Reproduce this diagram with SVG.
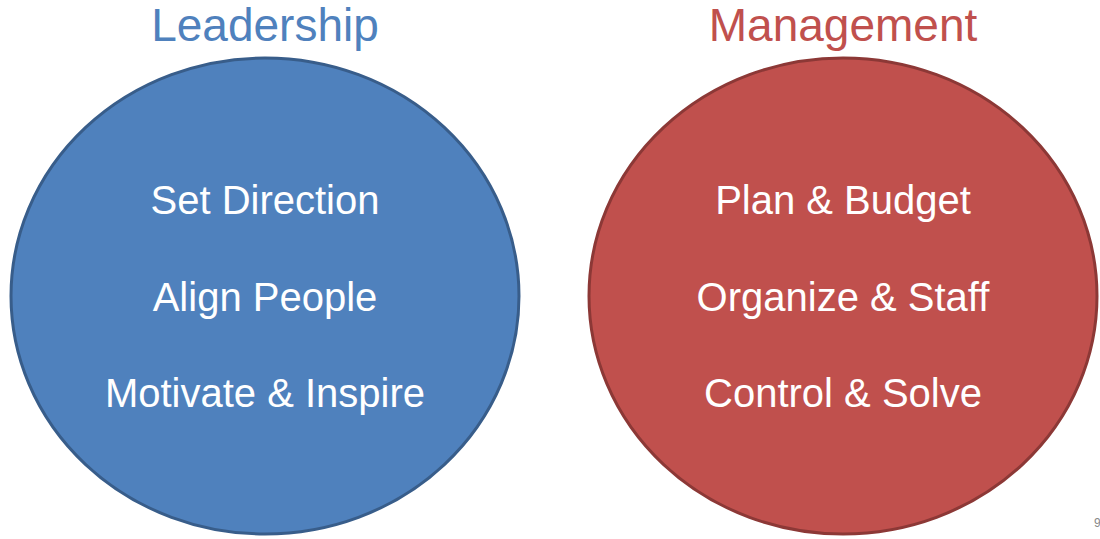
<svg xmlns="http://www.w3.org/2000/svg" width="1100" height="539" viewBox="0 0 1100 539">
<style>
text{font-family:"Liberation Sans",Arial,sans-serif;text-anchor:middle}
.t{font-size:46px}
.i{font-size:40px;fill:#fff}
</style>
<rect width="1100" height="539" fill="#fff"/>
<g id="leadership">
<ellipse cx="265" cy="296" rx="254" ry="238" fill="#4f81bd" stroke="#385d8a" stroke-width="3"/>
<text class="t" x="265" y="41" fill="#4f81bd">Leadership</text>
<text class="i" x="265" y="214">Set Direction</text>
<text class="i" x="265" y="311">Align People</text>
<text class="i" x="265" y="407">Motivate &amp; Inspire</text>
</g>
<g id="management">
<ellipse cx="843" cy="296" rx="254" ry="238" fill="#c0504d" stroke="#8c3836" stroke-width="3"/>
<text class="t" x="843" y="41" fill="#c0504d">Management</text>
<text class="i" x="843" y="214">Plan &amp; Budget</text>
<text class="i" x="843" y="311">Organize &amp; Staff</text>
<text class="i" x="843" y="407">Control &amp; Solve</text>
</g>
<g id="connectors"/>
<text x="1094" y="527" style="font-size:12px;fill:#888;text-anchor:start">9</text>
</svg>
